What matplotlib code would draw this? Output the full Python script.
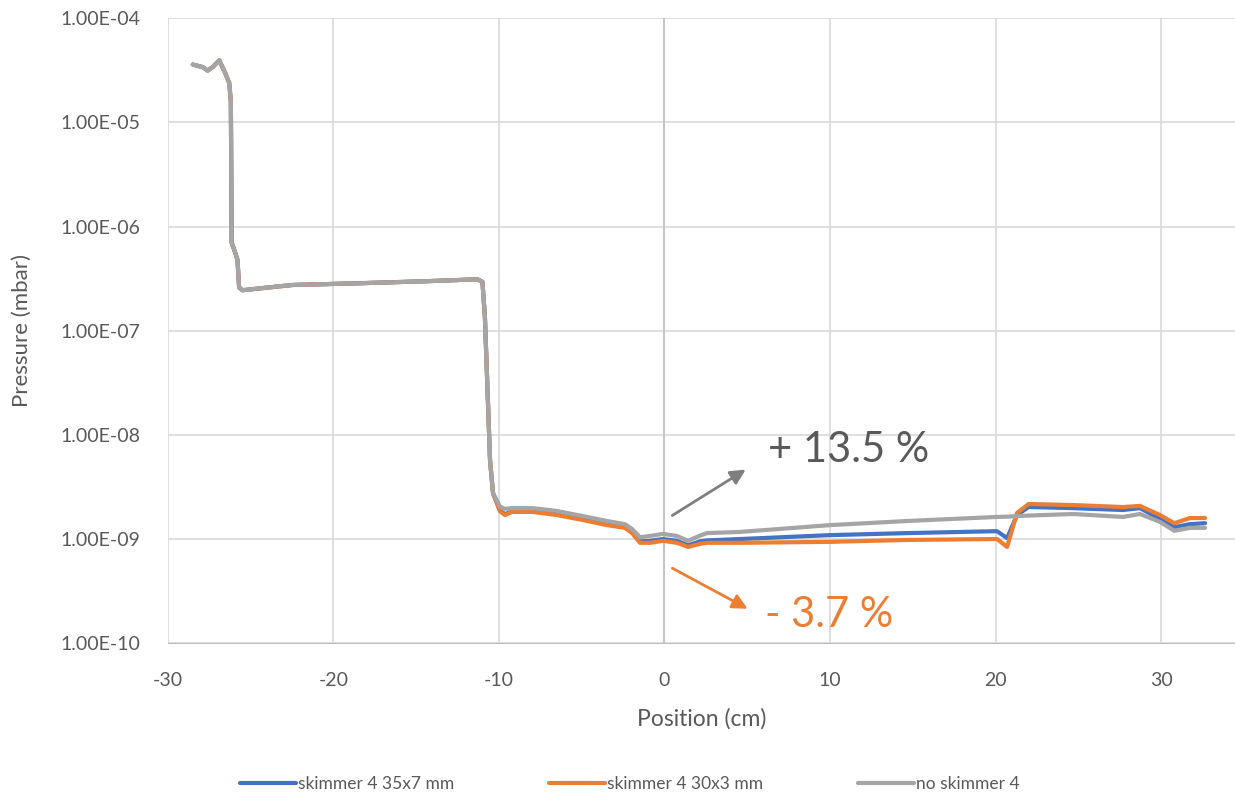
"""Pressure profile along the beamline for the three skimmer setups."""

import matplotlib
matplotlib.use("Agg")
import matplotlib.pyplot as plt
from matplotlib.ticker import FixedLocator, FuncFormatter

plt.rcParams["font.family"] = ["Lato", "DejaVu Sans"]
plt.rcParams["axes.unicode_minus"] = False

# shared part of the profile (all three curves overlap here)
x_head = [-28.5, -27.9, -27.6, -27.3, -26.9, -26.55, -26.3, -26.2, -26.15,
          -25.95, -25.8, -25.7, -25.5, -22.5, -18.4, -14.4, -11.3, -11.0,
          -10.85, -10.54, -10.36]
p_head = [3.6e-5, 3.4e-5, 3.15e-5, 3.4e-5, 3.95e-5, 3.0e-5, 2.4e-5, 1.6e-5,
          7.0e-7, 5.7e-7, 4.8e-7, 2.6e-7, 2.45e-7, 2.75e-7, 2.86e-7, 2.99e-7,
          3.12e-7, 2.95e-7, 1.35e-7, 5.7e-9, 2.76e-9]

# downstream part, where the setups differ
x_tail = [-9.94, -9.64, -9.21, -7.95, -6.50, -4.92, -3.47, -2.39, -1.96,
          -1.48, -0.88, -0.09, 0.76, 1.42, 2.15, 2.57, 4.56, 10.0, 14.65,
          20.09, 20.70, 21.30, 22.0, 24.68, 27.70, 28.73, 29.94, 30.8, 31.75,
          32.66]
p_35x7 = [1.88e-9, 1.73e-9, 1.85e-9, 1.85e-9, 1.73e-9, 1.56e-9, 1.40e-9,
          1.32e-9, 1.18e-9, 0.95e-9, 0.96e-9, 1.0e-9, 0.96e-9, 0.87e-9,
          0.95e-9, 0.97e-9, 1.0e-9, 1.09e-9, 1.14e-9, 1.19e-9, 1.02e-9,
          1.70e-9, 2.03e-9, 1.98e-9, 1.90e-9, 1.98e-9, 1.56e-9, 1.30e-9,
          1.39e-9, 1.42e-9]
p_30x3 = [1.85e-9, 1.70e-9, 1.82e-9, 1.82e-9, 1.70e-9, 1.52e-9, 1.36e-9,
          1.28e-9, 1.14e-9, 0.92e-9, 0.92e-9, 0.96e-9, 0.92e-9, 0.84e-9,
          0.90e-9, 0.92e-9, 0.92e-9, 0.94e-9, 0.98e-9, 1.0e-9, 0.84e-9,
          1.78e-9, 2.17e-9, 2.12e-9, 2.03e-9, 2.08e-9, 1.70e-9, 1.42e-9,
          1.59e-9, 1.59e-9]
p_none = [2.05e-9, 1.95e-9, 1.98e-9, 1.98e-9, 1.86e-9, 1.66e-9, 1.49e-9,
          1.39e-9, 1.25e-9, 1.04e-9, 1.07e-9, 1.12e-9, 1.07e-9, 0.96e-9,
          1.08e-9, 1.14e-9, 1.17e-9, 1.36e-9, 1.49e-9, 1.63e-9, 1.64e-9,
          1.66e-9, 1.68e-9, 1.74e-9, 1.63e-9, 1.74e-9, 1.46e-9, 1.20e-9,
          1.28e-9, 1.28e-9]

series = [
    ("skimmer 4 35x7 mm", p_35x7, "#4472C4"),
    ("skimmer 4 30x3 mm", p_30x3, "#ED7D31"),
    ("no skimmer 4", p_none, "#A5A5A5"),
]

TEXT = "#595959"

fig = plt.figure(figsize=(12.35, 7.97), dpi=100)
ax = fig.add_axes([0.136, 0.193, 0.864, 0.784])

for label, tail, color in series:
    ax.plot(x_head + x_tail, p_head + tail, color=color, lw=3,
            label=label, solid_joinstyle="round", solid_capstyle="round")

ax.set_yscale("log")
ax.set_ylim(1e-10, 1e-4)
ax.set_xlim(-30, 34.47)
ax.xaxis.set_major_locator(FixedLocator([-30, -20, -10, 0, 10, 20, 30]))
ax.yaxis.set_major_locator(FixedLocator([1e-10, 1e-9, 1e-8, 1e-7, 1e-6, 1e-5, 1e-4]))
ax.yaxis.set_minor_locator(FixedLocator([]))
ax.yaxis.set_major_formatter(FuncFormatter(lambda v, _: f"{v:.2E}"))

ax.grid(True, color="#D9D9D9", lw=1.2)
ax.set_axisbelow(True)
ax.axvline(0, color="#BFBFBF", lw=1.2, zorder=1)
for side in ("left", "right", "top"):
    ax.spines[side].set_visible(False)
ax.spines["bottom"].set_color("#BFBFBF")
ax.tick_params(length=0, labelsize=14, labelcolor=TEXT)
ax.tick_params(axis="y", pad=20)
ax.tick_params(axis="x", pad=21)

ax.set_xlabel("Position (cm)", fontsize=16.5, color=TEXT)
ax.set_ylabel("Pressure (mbar)", fontsize=16, color=TEXT)
ax.xaxis.set_label_coords(0.5, -0.104)
ax.yaxis.set_label_coords(-0.128, 0.5)

# change relative to the 35x7 skimmer
ax.annotate("", xy=(5.05, 4.8e-9), xytext=(0.33, 1.63e-9),
            arrowprops=dict(arrowstyle="-|>,head_length=0.9,head_width=0.45",
                            color="#7F7F7F", lw=2))
ax.text(6.25, 7.1e-9, "+ 13.5 %", fontsize=30, color=TEXT, va="center")
ax.annotate("", xy=(5.17, 2.08e-10), xytext=(0.33, 5.4e-10),
            arrowprops=dict(arrowstyle="-|>,head_length=0.9,head_width=0.45",
                            color="#ED7D31", lw=2))
ax.text(6.05, 1.87e-10, "- 3.7 %", fontsize=30, color="#ED7D31", va="center")

fig.legend(loc="center", bbox_to_anchor=(0.51, 0.016), ncol=3,
           frameon=False, fontsize=12.5, labelcolor=TEXT, handlelength=3.2,
           handletextpad=0.1, columnspacing=5.5)

fig.savefig("out.png", dpi=100)
